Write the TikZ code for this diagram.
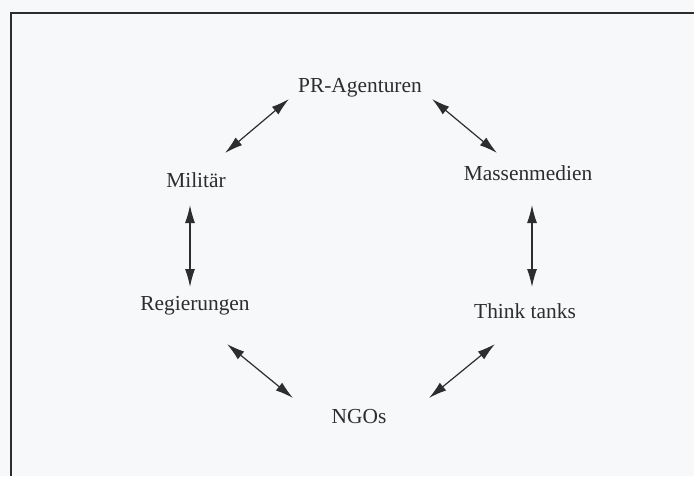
\documentclass[tikz,border=0pt]{standalone}
\usepackage{fontspec}
\setmainfont{Liberation Serif}
\usetikzlibrary{arrows.meta}
\definecolor{paper}{RGB}{247,248,250}
\definecolor{ink}{RGB}{45,45,45}
\tikzset{
	actor/.style={inner sep=0pt, text=ink, font=\fontsize{10.7}{12}\selectfont},
	link/.style={ink, line width=0.6pt, {Latex[length=9pt,width=5pt]}-{Latex[length=9pt,width=5pt]}}
}
\begin{document}
\begin{tikzpicture}[x=0.5pt,y=-0.5pt]
			% Draw page and frame
			\fill[paper] (0,0) rectangle (694,476);
			\useasboundingbox (0,0) rectangle (694,476);
			\draw[ink, line width=1pt] (11,476) -- (11,13) -- (694,13);
			% Draw actors
			\node[actor] (pr) at (360,88) {PR-Agenturen};
			\node[actor] (mil) at (196,180) {Militär};
			\node[actor] (mas) at (528,173) {Massenmedien};
			\node[actor] (reg) at (195,306) {Regierungen};
			\node[actor] (tt) at (525,311) {Think tanks};
			\node[actor] (ngo) at (359,417) {NGOs};
			% Draw links between neighbours
			\draw[link] ([shift={(29,-27)}]mil.center) -- ([shift={(-71,11)}]pr.center);
			\draw[link] ([shift={(72,11)}]pr.center) -- ([shift={(-31,-20)}]mas.center);
			\draw[link] ([shift={(-6,25)}]mil.center) -- ([shift={(-5,-19)}]reg.center);
			\draw[link] ([shift={(4,32)}]mas.center) -- ([shift={(7,-24)}]tt.center);
			\draw[link] ([shift={(32,38)}]reg.center) -- ([shift={(-66,-19)}]ngo.center);
			\draw[link] ([shift={(70,-19)}]ngo.center) -- ([shift={(-30,33)}]tt.center);
		\end{tikzpicture}
\end{document}
